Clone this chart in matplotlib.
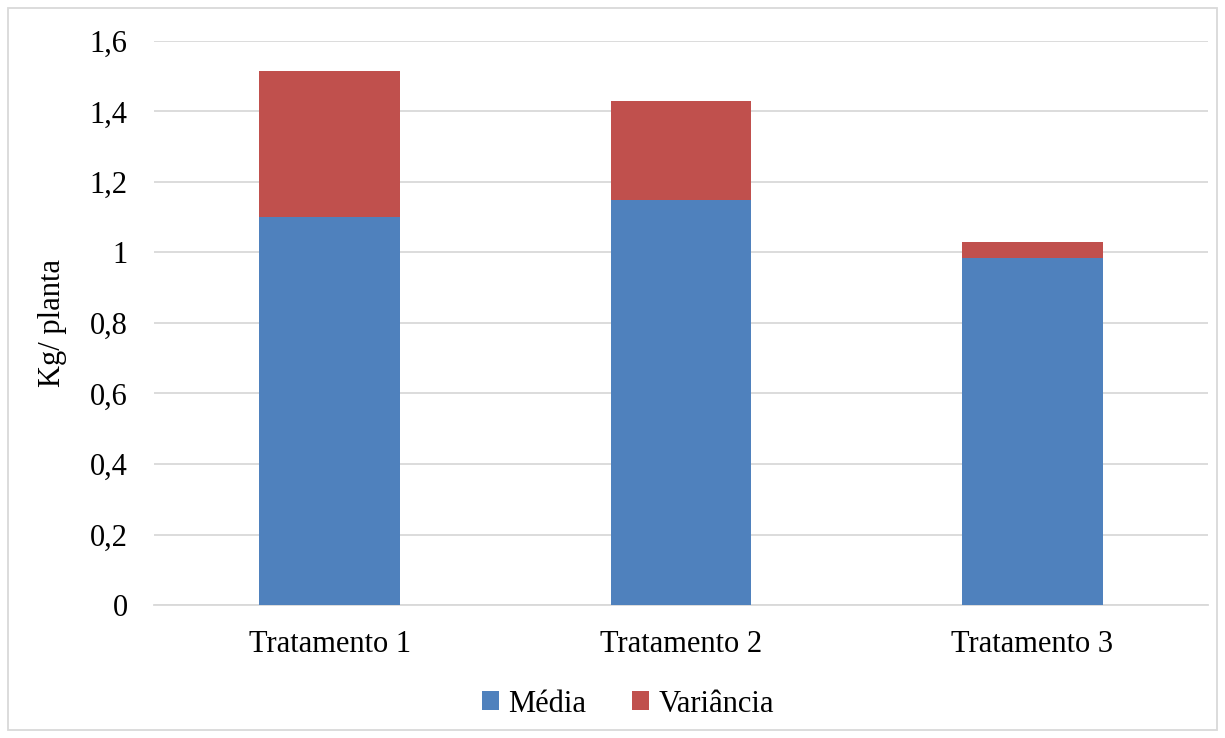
import numpy as np
import matplotlib.pyplot as plt
from matplotlib.patches import Rectangle
from matplotlib.ticker import FuncFormatter

tratamentos = ['Tratamento 1', 'Tratamento 2', 'Tratamento 3']
media = [1.10, 1.15, 0.985]
variancia = [0.415, 0.28, 0.046]

plt.rcParams['font.family'] = ['Liberation Serif', 'DejaVu Serif']
fs = 22

fig = plt.figure(figsize=(12.25, 7.38), dpi=100)
ax = fig.add_axes([154/1225, 133/738, 1054/1225, 564/738])

x = np.arange(len(tratamentos))
ax.bar(x, media, width=0.4, color='#4F81BD', label='Média', zorder=3)
ax.bar(x, variancia, width=0.4, bottom=media, color='#C0504D', label='Variância', zorder=3)

ax.set_xlim(-0.5, 2.5)
ax.set_ylim(0, 1.6)
ax.set_yticks(np.arange(0, 1.61, 0.2))
ax.yaxis.set_major_formatter(FuncFormatter(lambda v, p: ('%g' % round(v, 1)).replace('.', ',')))
ax.set_xticks(x)
ax.set_xticklabels(tratamentos)
ax.tick_params(axis='y', length=0, pad=19, labelsize=fs)
ax.tick_params(axis='x', length=0, pad=18, labelsize=fs)
ax.grid(axis='y', color='#d9d9d9', linewidth=1.3, zorder=0)
for s in ['top', 'right', 'left']:
    ax.spines[s].set_visible(False)
ax.spines['bottom'].set_color('#d9d9d9')
ax.spines['bottom'].set_linewidth(1.3)

ax.set_ylabel('Kg/ planta', fontsize=fs, labelpad=16)

fig.legend(loc='center', bbox_to_anchor=(628/1225, 1 - 704/738), ncol=2, frameon=False,
           fontsize=fs, handlelength=0.55, handleheight=0.55, handletextpad=0.3, columnspacing=1.5)

# light frame round the whole chart
fig.patches.append(Rectangle((8/1225, 8/738), 1209/1225, 722/738, transform=fig.transFigure,
                             fill=False, edgecolor='#d9d9d9', linewidth=1.3))

fig.savefig('out.png', dpi=100)
